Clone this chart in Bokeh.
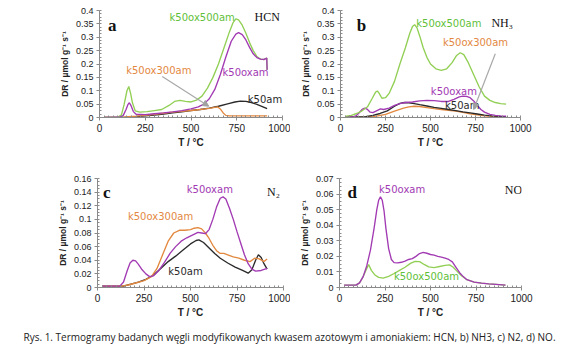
from bokeh.plotting import figure
from bokeh.layouts import column, row
from bokeh.models import FixedTicker, Label, Arrow, NormalHead, Range1d
from bokeh.embed import file_html
from bokeh.resources import INLINE
import numpy as np

# ---------------- data ----------------
x_ticks = [0, 250, 500, 750, 1000]
x_tick_labels = ["0", "250", "500", "750", "1000"]

# a) HCN
a_yticks = [0, 0.05, 0.1, 0.15, 0.2, 0.25, 0.3, 0.35, 0.4]
a_ylabels = ["0", "0.05", "0.1", "0.15", "0.2", "0.25", "0.3", "0.35", "0.4"]
a_green_x = [25, 100, 120, 135, 150, 160, 170, 180, 195, 220, 260, 300, 340, 380, 410, 440, 470, 500, 530, 560, 590, 620, 650, 680, 710, 730, 745, 760, 780, 800, 820, 840, 860, 880, 900, 914, 916]
a_green_y = [0, 0.001, 0.01, 0.05, 0.1, 0.116, 0.09, 0.055, 0.025, 0.02, 0.022, 0.026, 0.03, 0.045, 0.06, 0.064, 0.06, 0.058, 0.065, 0.08, 0.11, 0.15, 0.2, 0.26, 0.32, 0.355, 0.369, 0.365, 0.345, 0.315, 0.28, 0.25, 0.228, 0.218, 0.217, 0.222, 0.178]
a_purple_x = [25, 110, 130, 145, 155, 163, 172, 185, 200, 250, 300, 350, 400, 450, 500, 540, 570, 600, 630, 660, 690, 720, 745, 760, 780, 800, 820, 840, 860, 880, 900, 914, 916]
a_purple_y = [0, 0.001, 0.008, 0.03, 0.048, 0.055, 0.045, 0.022, 0.012, 0.011, 0.014, 0.017, 0.021, 0.026, 0.032, 0.04, 0.05, 0.07, 0.105, 0.16, 0.225, 0.285, 0.312, 0.317, 0.31, 0.29, 0.262, 0.238, 0.224, 0.218, 0.217, 0.222, 0.178]
a_orange_x = [25, 130, 160, 200, 250, 300, 350, 400, 450, 500, 550, 600, 630, 645, 660, 675, 690, 710, 760, 916]
a_orange_y = [0, 0.001, 0.003, 0.005, 0.008, 0.012, 0.016, 0.02, 0.023, 0.026, 0.03, 0.034, 0.038, 0.04, 0.032, 0.018, 0.008, 0.006, 0.006, 0.006]
a_black_x = [25, 140, 200, 250, 300, 350, 400, 450, 500, 550, 600, 650, 700, 740, 770, 800, 830, 860, 890, 916]
a_black_y = [0, 0.001, 0.003, 0.006, 0.009, 0.013, 0.017, 0.021, 0.026, 0.03, 0.035, 0.042, 0.051, 0.058, 0.061, 0.06, 0.056, 0.049, 0.041, 0.033]

# b) NH3
b_yticks = a_yticks
b_ylabels = a_ylabels
b_green_x = [25, 60, 90, 120, 150, 175, 195, 205, 215, 230, 250, 270, 300, 330, 360, 385, 400, 412, 425, 440, 460, 480, 500, 530, 560, 590, 620, 645, 665, 685, 710, 740, 770, 800, 830, 860, 890, 920]
b_green_y = [0.004, 0.008, 0.015, 0.025, 0.04, 0.07, 0.095, 0.099, 0.09, 0.072, 0.074, 0.09, 0.135, 0.2, 0.26, 0.315, 0.34, 0.347, 0.335, 0.305, 0.26, 0.225, 0.2, 0.182, 0.176, 0.182, 0.205, 0.232, 0.242, 0.235, 0.205, 0.16, 0.115, 0.08, 0.064, 0.056, 0.052, 0.05]
b_purple_x = [25, 80, 100, 120, 135, 150, 165, 180, 200, 222, 240, 270, 300, 330, 360, 400, 440, 480, 520, 560, 600, 630, 660, 680, 700, 720, 740, 760, 780, 800, 830, 860, 890, 920]
b_purple_y = [0.002, 0.003, 0.015, 0.03, 0.035, 0.03, 0.02, 0.018, 0.025, 0.032, 0.03, 0.035, 0.045, 0.052, 0.056, 0.058, 0.062, 0.064, 0.063, 0.06, 0.06, 0.068, 0.077, 0.08, 0.079, 0.074, 0.062, 0.045, 0.03, 0.02, 0.012, 0.008, 0.006, 0.005]
b_black_x = [25, 140, 180, 220, 260, 300, 330, 355, 380, 410, 440, 480, 520, 560, 600, 640, 680, 720, 760, 800, 840, 880, 920]
b_black_y = [0.002, 0.003, 0.008, 0.015, 0.025, 0.042, 0.053, 0.056, 0.055, 0.052, 0.048, 0.043, 0.038, 0.034, 0.03, 0.026, 0.021, 0.017, 0.013, 0.009, 0.006, 0.004, 0.003]
b_orange_x = [25, 150, 200, 250, 300, 350, 380, 410, 440, 480, 520, 560, 600, 640, 680, 720, 760, 800, 840, 880, 920]
b_orange_y = [0.001, 0.002, 0.005, 0.012, 0.024, 0.035, 0.04, 0.042, 0.041, 0.037, 0.033, 0.03, 0.027, 0.024, 0.019, 0.014, 0.01, 0.006, 0.004, 0.003, 0.002]

# c) N2
c_yticks = [0, 0.02, 0.04, 0.06, 0.08, 0.1, 0.12, 0.14, 0.16]
c_ylabels = ["0", "0.02", "0.04", "0.06", "0.08", "0.1", "0.12", "0.14", "0.16"]
c_purple_x = [25, 120, 140, 160, 175, 190, 205, 220, 240, 260, 280, 300, 330, 360, 390, 420, 450, 480, 510, 540, 560, 580, 600, 620, 640, 660, 675, 690, 710, 730, 750, 770, 790, 810, 830, 850, 880, 912]
c_purple_y = [0.002, 0.002, 0.008, 0.025, 0.036, 0.04, 0.039, 0.034, 0.026, 0.02, 0.016, 0.017, 0.025, 0.037, 0.05, 0.06, 0.068, 0.073, 0.077, 0.081, 0.08, 0.079, 0.085, 0.1, 0.118, 0.131, 0.133, 0.13, 0.116, 0.1, 0.082, 0.065, 0.048, 0.035, 0.027, 0.024, 0.025, 0.028]
c_black_x = [25, 140, 180, 220, 260, 300, 340, 380, 420, 460, 500, 530, 545, 570, 600, 630, 660, 700, 740, 780, 810, 830, 850, 865, 880, 895, 912]
c_black_y = [0.002, 0.002, 0.005, 0.008, 0.012, 0.018, 0.028, 0.038, 0.046, 0.055, 0.064, 0.069, 0.07, 0.066, 0.058, 0.05, 0.043, 0.036, 0.03, 0.025, 0.021, 0.026, 0.04, 0.048, 0.044, 0.035, 0.027]
c_orange_x = [25, 130, 170, 210, 250, 290, 320, 350, 380, 410, 440, 470, 500, 520, 540, 560, 580, 600, 620, 640, 660, 680, 700, 730, 760, 790, 820, 845, 870, 895, 912]
c_orange_y = [0.002, 0.002, 0.004, 0.007, 0.01, 0.016, 0.028, 0.048, 0.068, 0.08, 0.084, 0.084, 0.085, 0.087, 0.088, 0.086, 0.08, 0.072, 0.062, 0.054, 0.05, 0.05, 0.048, 0.045, 0.043, 0.04, 0.038, 0.043, 0.042, 0.038, 0.042]

# d) NO
d_yticks = [0, 0.01, 0.02, 0.03, 0.04, 0.05, 0.06, 0.07]
d_ylabels = ["0", "0.01", "0.02", "0.03", "0.04", "0.05", "0.06", "0.07"]
d_purple_x = [25, 90, 110, 130, 150, 170, 190, 205, 215, 225, 235, 245, 255, 270, 285, 300, 320, 340, 360, 380, 400, 420, 440, 460, 480, 500, 520, 540, 560, 580, 600, 620, 640, 660, 680, 700, 740, 780, 820, 860, 912]
d_purple_y = [0.0015, 0.0015, 0.003, 0.007, 0.014, 0.024, 0.038, 0.05, 0.056, 0.0583, 0.056, 0.049, 0.038, 0.025, 0.018, 0.016, 0.0158, 0.0162, 0.017, 0.018, 0.0185, 0.02, 0.0218, 0.0225, 0.022, 0.0212, 0.0208, 0.02, 0.0195, 0.0188, 0.018, 0.0165, 0.013, 0.0095, 0.007, 0.005, 0.0035, 0.0028, 0.0023, 0.002, 0.0015]
d_green_x = [25, 90, 110, 130, 145, 160, 175, 195, 215, 240, 270, 300, 330, 360, 390, 415, 440, 465, 490, 520, 550, 580, 605, 625, 645, 670, 700, 740, 780, 820, 860, 912]
d_green_y = [0.0015, 0.0015, 0.003, 0.007, 0.011, 0.0148, 0.011, 0.008, 0.0065, 0.006, 0.0072, 0.009, 0.011, 0.013, 0.0155, 0.0168, 0.0166, 0.0148, 0.0132, 0.0128, 0.0135, 0.0142, 0.0145, 0.013, 0.0105, 0.0075, 0.005, 0.0035, 0.0028, 0.0023, 0.002, 0.0015]

caption = "Rys. 1. Termogramy badanych węgli modyfikowanych kwasem azotowym i amoniakiem: HCN, b) NH3, c) N2, d) NO."

# ---------------- style ----------------
GREEN = "#92cf55"
PURPLE = "#a23ab3"
ORANGE = "#e3883f"
BLACK = "#2b2b2b"
GREEN_T = "#5fbf3a"
AXIS = "#8a8a8a"
LABEL_FONT = "DejaVu Sans"


def make_panel(width, height, left, right, top, bottom, ymax, yticks, ylabels,
               ymstep, series, labels, letter, gas, arrow=None):
    p = figure(width=width, height=height, x_range=Range1d(0, 1000),
               y_range=Range1d(0, ymax), output_backend="svg",
               toolbar_location=None, min_border_left=left,
               min_border_right=right, min_border_top=top,
               min_border_bottom=bottom)
    p.outline_line_color = None
    p.grid.visible = False
    p.xaxis.ticker = FixedTicker(ticks=x_ticks,
                                 minor_ticks=list(np.arange(0, 1001, 25)))
    p.xaxis.major_label_overrides = dict(zip(x_ticks, x_tick_labels))
    p.yaxis.ticker = FixedTicker(ticks=yticks,
                                 minor_ticks=list(np.arange(0, ymax + 1e-9, ymstep)))
    p.yaxis.major_label_overrides = dict(zip(yticks, ylabels))
    for ax in (p.xaxis[0], p.yaxis[0]):
        ax.axis_line_color = AXIS
        ax.major_tick_line_color = AXIS
        ax.minor_tick_line_color = AXIS
        ax.major_tick_out = 3
        ax.major_tick_in = 0
        ax.minor_tick_out = 0
        ax.minor_tick_in = 2
        ax.major_label_text_color = "#222222"
        ax.major_label_text_font = "Liberation Sans"
        ax.axis_label_text_font = "Liberation Sans"
        ax.axis_label_text_font_style = "bold"
        ax.axis_label_text_color = "#222222"
    p.xaxis.major_label_text_font_size = "10px"
    p.yaxis.major_label_text_font_size = "9px"
    p.xaxis.major_label_standoff = 3
    p.yaxis.major_label_standoff = 3
    p.xaxis.axis_label = "T / °C"
    p.xaxis.axis_label_text_font_size = "10px"
    p.xaxis.axis_label_standoff = 2
    p.yaxis.axis_label = "DR / µmol g⁻¹ s⁻¹"
    p.yaxis.axis_label_text_font_size = "8.5px"
    p.yaxis.axis_label_standoff = 3

    for xs, ys, col in series:
        p.line(xs, ys, line_color=col, line_width=1.35)

    for txt, lx, ly, col, al in labels:
        p.add_layout(Label(x=lx, y=ly, text=txt, text_color=col,
                           text_font=LABEL_FONT, text_font_size="10px",
                           text_align=al, text_baseline="middle"))
    lx, ly = letter[1], letter[2]
    p.add_layout(Label(x=lx, y=ly, text=letter[0], text_font="Liberation Serif",
                       text_font_size="17px", text_font_style="bold",
                       text_color="#111111", text_align="center",
                       text_baseline="middle"))
    p.add_layout(Label(x=gas[1], y=gas[2], text=gas[0], text_font="Liberation Serif",
                       text_font_size="12px", text_color="#111111",
                       text_align="center", text_baseline="middle"))
    if arrow is not None:
        p.add_layout(Arrow(end=NormalHead(size=6, fill_color="#a0a0a0",
                                          line_color="#a0a0a0"),
                           x_start=arrow[0], y_start=arrow[1],
                           x_end=arrow[2], y_end=arrow[3],
                           line_color="#a8a8a8", line_width=1.2))
    return p


pa = make_panel(290, 150, 99, 8, 10, 32, 0.4, a_yticks, a_ylabels, 0.0125,
                [(a_black_x, a_black_y, BLACK), (a_orange_x, a_orange_y, ORANGE),
                 (a_green_x, a_green_y, GREEN), (a_purple_x, a_purple_y, PURPLE)],
                [("k50ox500am", 561, 0.373, GREEN_T, "center"),
                 ("k50ox300am", 324, 0.174, ORANGE, "center"),
                 ("k50oxam", 798, 0.168, PURPLE, "center"),
                 ("k50am", 998, 0.069, BLACK, "right")],
                ("a", 69, 0.344), ("HCN", 916, 0.375),
                arrow=(343, 0.153, 597, 0.042))

pb = make_panel(285, 150, 50, 55, 10, 33, 0.4, b_yticks, b_ylabels, 0.0125,
                [(b_orange_x, b_orange_y, ORANGE), (b_black_x, b_black_y, BLACK),
                 (b_purple_x, b_purple_y, PURPLE), (b_green_x, b_green_y, GREEN)],
                [("k50ox500am", 602, 0.352, GREEN_T, "center"),
                 ("k50ox300am", 750, 0.279, ORANGE, "center"),
                 ("k50oxam", 630, 0.098, PURPLE, "center"),
                 ("k50am", 676, 0.045, BLACK, "center")],
                ("b", 117, 0.344), ("NH₃", 898, 0.352),
                arrow=(860, 0.238, 740, 0.03))

pc = make_panel(290, 170, 97, 7, 28, 32, 0.16, c_yticks, c_ylabels, 0.005,
                [(c_black_x, c_black_y, BLACK), (c_orange_x, c_orange_y, ORANGE),
                 (c_purple_x, c_purple_y, PURPLE)],
                [("k50oxam", 604, 0.1436, PURPLE, "center"),
                 ("k50ox300am", 339, 0.1047, ORANGE, "center"),
                 ("k50am", 473, 0.0237, BLACK, "center")],
                ("c", 50, 0.1395), ("N₂", 946, 0.140))

pd_ = make_panel(285, 170, 49, 54, 28, 32, 0.07, d_yticks, d_ylabels, 0.0025,
                 [(d_green_x, d_green_y, GREEN), (d_purple_x, d_purple_y, PURPLE)],
                 [("k50oxam", 344, 0.0628, PURPLE, "center"),
                  ("k50ox500am", 478, 0.0072, GREEN_T, "center")],
                 ("d", 70, 0.0613), ("NO", 956, 0.0624))

cap = figure(width=575, height=25, output_backend="svg", toolbar_location=None,
             x_range=Range1d(0, 575), y_range=Range1d(0, 25),
             min_border=0, min_border_left=0, min_border_right=0,
             min_border_top=0, min_border_bottom=0)
cap.axis.visible = False
cap.grid.visible = False
cap.outline_line_color = None
cap.add_layout(Label(x=289, y=9, text=caption, text_font="Open Sans",
                     text_font_size="10px", text_color="#222222",
                     text_align="center", text_baseline="middle"))

layout = column(row(pa, pb), row(pc, pd_), cap)
open("out.html", "w").write(file_html(layout, INLINE))
